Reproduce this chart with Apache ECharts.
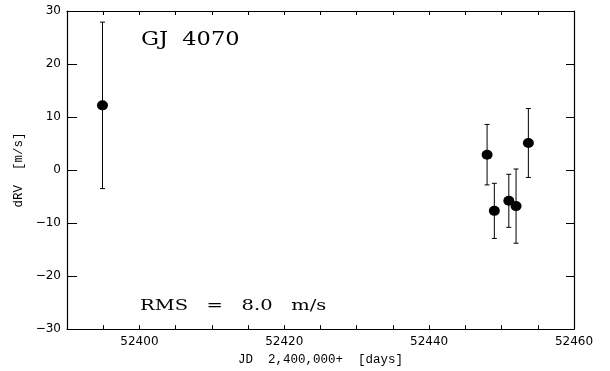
<!DOCTYPE html>
<html>
<head>
<meta charset="utf-8">
<script src="https://cdn.jsdelivr.net/npm/echarts@6/dist/echarts.min.js"></script>
<style>
  html, body { margin: 0; padding: 0; background: #fff; }
  #chart { width: 610px; height: 371px; }
</style>
</head>
<body>
<div id="chart"></div>
<script>
// Radial-velocity residuals of GJ 4070
const jd  = [52394.9, 52448.0, 52449.0, 52451.0, 52452.0, 52453.7];
const drv = [12.2, 2.9, -7.7, -5.8, -6.8, 5.1];
const err = [15.7, 5.7, 5.2, 5.0, 7.0, 6.5];

const xLabelValues = [52400, 52420, 52440, 52460];
const starName = 'GJ  4070';
const rmsText  = 'RMS   =   8.0   m/s';

const X_MIN = 52390, X_MAX = 52460;
const Y_MIN = -30, Y_MAX = 30;

const points = jd.map((x, i) => [x, drv[i]]);
const bars = jd.map((x, i) => [x, drv[i] - err[i], drv[i] + err[i]]);

const ink = '#000';
const labelFont = { color: ink, fontFamily: 'DejaVu Sans', fontSize: 12 };
const monoFont = { color: ink, fontFamily: 'Liberation Mono', fontSize: 12.5 };
const plainNumber = v => String(v).replace('-', '\u2212');

const chart = echarts.init(document.getElementById('chart'), null, { renderer: 'canvas' });

chart.setOption({
  animation: false,
  backgroundColor: '#fff',
  grid: { left: 67, right: 36, top: 11, bottom: 39 },
  xAxis: [
    {
      type: 'value', min: X_MIN, max: X_MAX, interval: 5, position: 'bottom',
      name: 'JD  2,400,000+  [days]', nameLocation: 'middle', nameGap: 20,
      nameTextStyle: monoFont,
      axisLine: { onZero: false, lineStyle: { color: ink, width: 1.2 } },
      axisTick: { show: true, inside: true, length: 4, lineStyle: { color: ink, width: 1 } },
      axisLabel: { customValues: xLabelValues, margin: 7, formatter: plainNumber, ...labelFont },
      splitLine: { show: false }
    },
    {
      type: 'value', min: X_MIN, max: X_MAX, interval: 5, position: 'top',
      axisLine: { onZero: false, lineStyle: { color: ink, width: 1.2 } },
      axisTick: { show: true, inside: true, length: 4, lineStyle: { color: ink, width: 1 } },
      axisLabel: { show: false },
      splitLine: { show: false }
    }
  ],
  yAxis: [
    {
      type: 'value', min: Y_MIN, max: Y_MAX, interval: 10, position: 'left',
      name: 'dRV  [m/s]', nameLocation: 'middle', nameGap: 40, nameRotate: 90,
      nameTextStyle: monoFont,
      axisLine: { show: true, onZero: false, lineStyle: { color: ink, width: 1.2 } },
      axisTick: { show: true, inside: true, length: 10, lineStyle: { color: ink, width: 1 } },
      axisLabel: { margin: 6, formatter: plainNumber, ...labelFont },
      splitLine: { show: false }
    },
    {
      type: 'value', min: Y_MIN, max: Y_MAX, interval: 10, position: 'right',
      axisLine: { show: true, onZero: false, lineStyle: { color: ink, width: 1.2 } },
      axisTick: { show: true, inside: true, length: 8, lineStyle: { color: ink, width: 1 } },
      axisLabel: { show: false },
      splitLine: { show: false }
    }
  ],
  series: [
    {
      type: 'custom',
      xAxisIndex: 0, yAxisIndex: 0,
      silent: true,
      z: 2,
      data: bars,
      encode: { x: 0, y: [1, 2] },
      renderItem: function (params, api) {
        const x = api.value(0);
        const lo = api.coord([x, api.value(1)]);
        const hi = api.coord([x, api.value(2)]);
        const cap = 2.5;
        const style = { stroke: ink, lineWidth: 1 };
        return {
          type: 'group',
          children: [
            { type: 'line', shape: { x1: hi[0], y1: hi[1], x2: lo[0], y2: lo[1] }, style },
            { type: 'line', shape: { x1: hi[0] - cap, y1: hi[1], x2: hi[0] + cap, y2: hi[1] }, style },
            { type: 'line', shape: { x1: lo[0] - cap, y1: lo[1], x2: lo[0] + cap, y2: lo[1] }, style }
          ]
        };
      }
    },
    {
      type: 'scatter',
      xAxisIndex: 0, yAxisIndex: 0,
      silent: true,
      z: 3,
      symbol: 'circle',
      symbolSize: [11, 10],
      itemStyle: { color: ink, opacity: 1 },
      data: points
    }
  ],
  graphic: [
    {
      type: 'text', left: 141, top: 31, scaleX: 1.25,
      style: { text: starName, fill: ink, font: '18px "DejaVu Serif"' }
    },
    {
      type: 'text', left: 140, top: 299, scaleX: 1.3,
      style: { text: rmsText, fill: ink, font: '15px "DejaVu Serif"' }
    }
  ]
});
</script>
</body>
</html>
